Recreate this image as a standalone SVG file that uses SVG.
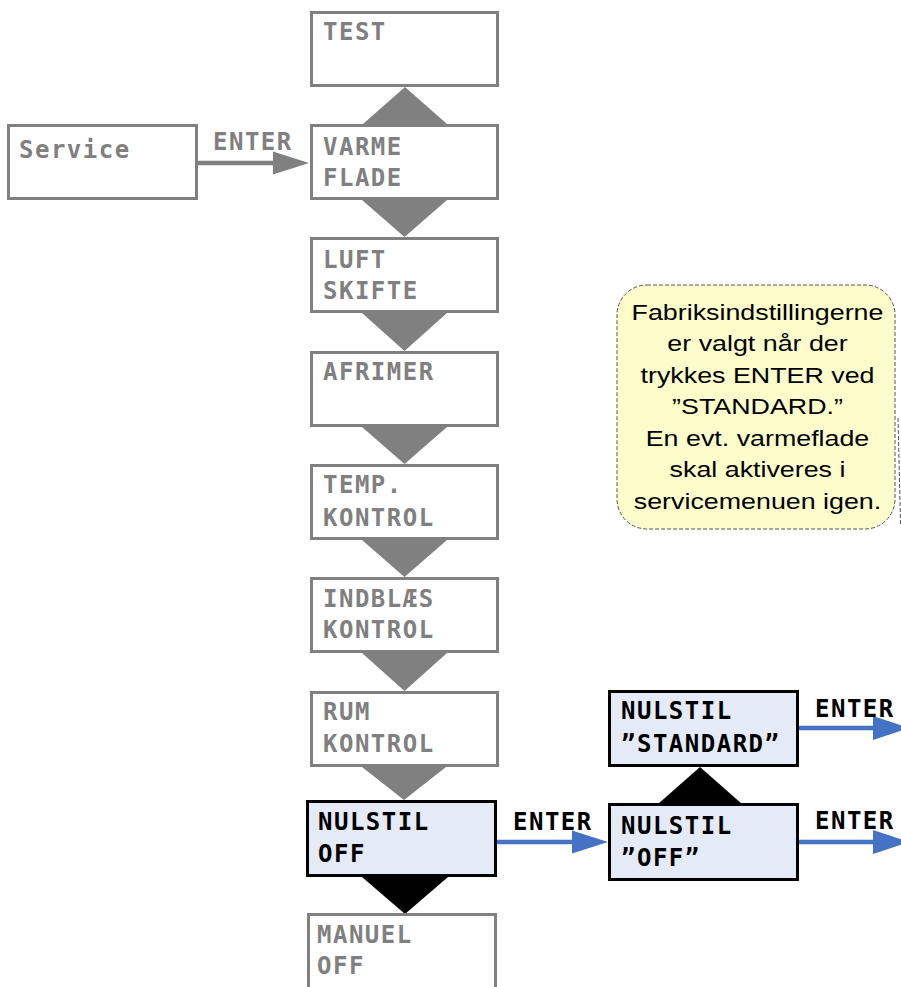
<svg xmlns="http://www.w3.org/2000/svg" width="901" height="987" viewBox="0 0 901 987">
  <style>
    .box { fill: #ffffff; stroke: #808080; stroke-width: 3; }
    .sel { fill: #e5ebf6; stroke: #000000; stroke-width: 3; }
    .lbl { font-family: "DejaVu Sans Mono", "Liberation Mono", monospace; font-weight: bold; font-size: 24px; letter-spacing: 1.5px; }
    .grey { fill: #808080; }
    .dark { fill: #000000; }
    .tri-grey { fill: #808080; }
    .tri-dark { fill: #000000; }
    .line-grey { stroke: #808080; stroke-width: 4.5; fill: none; }
    .line-blue { stroke: #4472c4; stroke-width: 4.5; fill: none; }
    .head-grey { fill: #808080; }
    .head-blue { fill: #4472c4; }
    .note { fill: #fdfdcb; stroke: #555555; stroke-width: 1; stroke-dasharray: 4 2; }
    .note-text { font-family: "Liberation Sans", Arial, sans-serif; font-size: 22px; fill: #000000; text-anchor: middle; }
  </style>

  <!-- connectors: menu step triangles and ENTER arrows -->
  <g id="connectors">
    <!-- up: VARME FLADE -> TEST -->
    <polygon class="tri-grey" points="363,124 447,124 405,87"/>
    <!-- down steps in the left column -->
    <polygon class="tri-grey" points="362,200 447,200 404.5,237"/>
    <polygon class="tri-grey" points="362,313 447,313 404.5,351"/>
    <polygon class="tri-grey" points="362,427 447,427 404.5,464"/>
    <polygon class="tri-grey" points="362,540 447,540 404.5,577"/>
    <polygon class="tri-grey" points="362,653 447,653 404.5,691"/>
    <polygon class="tri-grey" points="362,767 446,767 404,800"/>
    <polygon class="tri-dark" points="362,877 448,877 405,914"/>
    <!-- up: NULSTIL "OFF" -> NULSTIL "STANDARD" -->
    <polygon class="tri-dark" points="658,804 742,804 700,767"/>

    <!-- Service -> VARME FLADE -->
    <line class="line-grey" x1="195" y1="163" x2="276" y2="163"/>
    <polygon class="head-grey" points="273,151.5 309,163 273,174.5"/>
    <text class="lbl grey" x="213" y="150">ENTER</text>

    <!-- NULSTIL OFF -> NULSTIL "OFF" -->
    <line class="line-blue" x1="495" y1="842" x2="575" y2="842"/>
    <polygon class="head-blue" points="572,830.5 608,842 572,853.5"/>
    <text class="lbl dark" x="513" y="830">ENTER</text>

    <!-- NULSTIL "STANDARD" -> -->
    <line class="line-blue" x1="797" y1="728" x2="876" y2="728"/>
    <polygon class="head-blue" points="873,716 909,728 873,740"/>
    <text class="lbl dark" x="815" y="717">ENTER</text>

    <!-- NULSTIL "OFF" -> -->
    <line class="line-blue" x1="797" y1="842" x2="876" y2="842"/>
    <polygon class="head-blue" points="873,830 909,842 873,854"/>
    <text class="lbl dark" x="815" y="829">ENTER</text>
  </g>

  <g id="service">
    <rect class="box" x="8.5" y="125.5" width="188" height="73"/>
    <text class="lbl grey" x="19" y="158">Service</text>
  </g>

  <g id="test">
    <rect class="box" x="311.5" y="12.5" width="186" height="73"/>
    <text class="lbl grey" x="323" y="40">TEST</text>
  </g>

  <g id="varme-flade">
    <rect class="box" x="311.5" y="125.5" width="186" height="73"/>
    <text class="lbl grey" x="323" y="155">VARME</text>
    <text class="lbl grey" x="323" y="186">FLADE</text>
  </g>

  <g id="luft-skifte">
    <rect class="box" x="311.5" y="238.5" width="186" height="73"/>
    <text class="lbl grey" x="323" y="268">LUFT</text>
    <text class="lbl grey" x="323" y="299">SKIFTE</text>
  </g>

  <g id="afrimer">
    <rect class="box" x="311.5" y="352.5" width="186" height="73"/>
    <text class="lbl grey" x="323" y="380">AFRIMER</text>
  </g>

  <g id="temp-kontrol">
    <rect class="box" x="311.5" y="465.5" width="186" height="73"/>
    <text class="lbl grey" x="323" y="493">TEMP.</text>
    <text class="lbl grey" x="323" y="526">KONTROL</text>
  </g>

  <g id="indblaes-kontrol">
    <rect class="box" x="311.5" y="578.5" width="186" height="73"/>
    <text class="lbl grey" x="323" y="607">INDBLÆS</text>
    <text class="lbl grey" x="323" y="638">KONTROL</text>
  </g>

  <g id="rum-kontrol">
    <rect class="box" x="311.5" y="692.5" width="186" height="73"/>
    <text class="lbl grey" x="323" y="720">RUM</text>
    <text class="lbl grey" x="323" y="752">KONTROL</text>
  </g>

  <g id="nulstil-off">
    <rect class="sel" x="307.5" y="801.5" width="188" height="74"/>
    <text class="lbl dark" x="318" y="830">NULSTIL</text>
    <text class="lbl dark" x="318" y="862">OFF</text>
  </g>

  <g id="manuel-off">
    <rect class="box" x="308.5" y="914.5" width="187" height="80"/>
    <text class="lbl grey" x="317" y="943">MANUEL</text>
    <text class="lbl grey" x="317" y="974">OFF</text>
  </g>

  <g id="nulstil-standard">
    <rect class="sel" x="609.5" y="691.5" width="188" height="74"/>
    <text class="lbl dark" x="621" y="719">NULSTIL</text>
    <text class="lbl dark" x="621" y="752">”STANDARD”</text>
  </g>

  <g id="nulstil-off-value">
    <rect class="sel" x="609.5" y="804.5" width="188" height="75"/>
    <text class="lbl dark" x="621" y="834">NULSTIL</text>
    <text class="lbl dark" x="621" y="866">”OFF”</text>
  </g>

  <!-- note about factory settings -->
  <g id="note">
    <rect class="note" x="617" y="285" width="278" height="244" rx="30" ry="30"/>
    <line x1="898" y1="418" x2="900.5" y2="524" stroke="#555555" stroke-width="1" stroke-dasharray="4 2"/>
    <g transform="translate(757.5,0) scale(1.22,1)">
      <text class="note-text" x="0" y="320">Fabriksindstillingerne</text>
      <text class="note-text" x="0" y="351.5">er valgt når der</text>
      <text class="note-text" x="0" y="383">trykkes ENTER ved</text>
      <text class="note-text" x="0" y="414.5">”STANDARD.”</text>
      <text class="note-text" x="0" y="446">En evt. varmeflade</text>
      <text class="note-text" x="0" y="477.5">skal aktiveres i</text>
      <text class="note-text" x="0" y="509">servicemenuen igen.</text>
    </g>
  </g>
</svg>
